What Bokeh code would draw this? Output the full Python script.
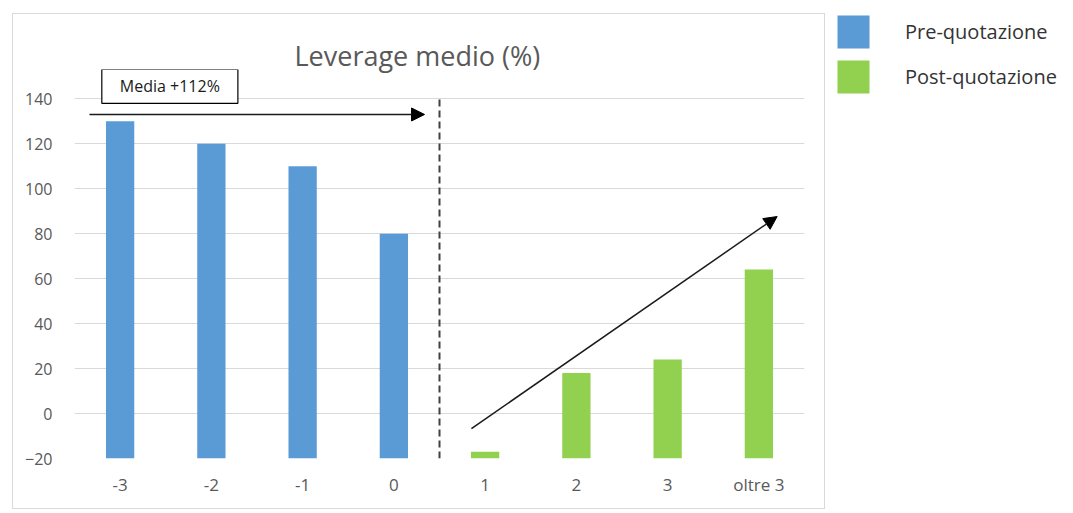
from bokeh.plotting import figure
from bokeh.models import (ColumnDataSource, FactorRange, Range1d, FixedTicker, Label,
                          Arrow, NormalHead, Legend, LegendItem)
from bokeh.layouts import row
from bokeh.embed import file_html
from bokeh.resources import INLINE

categories = ["-3", "-2", "-1", "0", "1", "2", "3", "oltre 3"]
pre_cats = ["-3", "-2", "-1", "0"]
pre_vals = [130, 120, 110, 80]
post_cats = ["1", "2", "3", "oltre 3"]
post_vals = [-17, 18, 24, 64]
y_ticks = [-20, 0, 20, 40, 60, 80, 100, 120, 140]
title_text = "Leverage medio (%)"
box_text = "Media +112%"
series_names = ["Pre-quotazione", "Post-quotazione"]

BLUE = "#5b9bd5"
GREEN = "#92d050"
GREY_TXT = "#595959"
FONT = "Open Sans"

p = figure(width=813, height=496, x_range=FactorRange(*categories),
           y_range=Range1d(-20, 153), output_backend="svg", toolbar_location=None,
           title=title_text, margin=(13, 0, 4, 12),
           min_border_left=61, min_border_right=22, min_border_bottom=52, min_border_top=55)
p.frame_align = False
p.styles = {"border": "1px solid #d9d9d9"}
p.title.align = "left"
p.title.text_font = FONT
p.title.text_font_size = "27px"
p.title.text_font_style = "normal"
p.title.text_color = GREY_TXT
p.title.offset = 220
p.title.standoff = -8
p.outline_line_color = None
p.background_fill_color = "white"
p.border_fill_color = "white"

p.xgrid.grid_line_color = None
p.ygrid.grid_line_color = "#d9d9d9"
p.ygrid.grid_line_width = 1
p.yaxis.ticker = FixedTicker(ticks=y_ticks)
for ax in (p.xaxis[0], p.yaxis[0]):
    ax.axis_line_color = None
    ax.major_tick_line_color = None
    ax.minor_tick_line_color = None
    ax.major_label_text_font = FONT
    ax.major_label_text_color = GREY_TXT
p.yaxis.major_label_text_font_size = "16px"
p.xaxis.major_label_text_font_size = "17px"
p.yaxis.major_label_standoff = 16
p.xaxis.major_label_standoff = 8

src_pre = ColumnDataSource(dict(x=pre_cats, top=pre_vals))
src_post = ColumnDataSource(dict(x=post_cats, top=post_vals))
p.vbar(x="x", top="top", bottom=-20, width=0.31, source=src_pre, fill_color=BLUE, line_color=None)
p.vbar(x="x", top="top", bottom=-20, width=0.31, source=src_post, fill_color=GREEN, line_color=None)

# dashed separator between pre and post
p.segment(x0=[4.0], y0=[-20], x1=[4.0], y1=[141], line_color="#404040", line_width=2,
          line_dash="7 4")

# arrows
p.add_layout(Arrow(end=NormalHead(size=13, fill_color="black", line_color="black"),
                   x_start=0.164, y_start=133, x_end=3.836, y_end=133,
                   line_color="#1a1a1a", line_width=1.5))
p.add_layout(Arrow(end=NormalHead(size=13, fill_color="black", line_color="black"),
                   x_start=4.35, y_start=-6.7, x_end=7.70, y_end=87.6,
                   line_color="#1a1a1a", line_width=1.5))

p.add_layout(Label(x=1.045, y=145.5, text=box_text, text_align="center", text_baseline="middle",
                   text_font=FONT, text_font_size="16px", text_color="#1a1a1a",
                   border_line_color="black", border_line_width=1.2,
                   background_fill_color="white", padding=(18, 18, 6, 6)))

# legend figure
leg = figure(width=248, height=496, x_range=Range1d(0, 1), y_range=Range1d(0, 1),
             output_backend="svg", toolbar_location=None, x_axis_type=None, y_axis_type=None,
             min_border_left=8, min_border_right=0, min_border_top=11, min_border_bottom=0,
             margin=(0, 0, 0, 0))
leg.frame_align = False
leg.outline_line_color = None
leg.xgrid.visible = False
leg.ygrid.visible = False
r1 = leg.vbar(x=[10], top=[10], width=0.5, fill_color=BLUE, line_color=None)
r2 = leg.vbar(x=[10], top=[10], width=0.5, fill_color=GREEN, line_color=None)
legend = Legend(items=[LegendItem(label=series_names[0], renderers=[r1]),
                       LegendItem(label=series_names[1], renderers=[r2])],
                location="top_left", orientation="vertical",
                glyph_width=40, glyph_height=41, label_standoff=32, spacing=4,
                padding=0, margin=0, border_line_color=None, background_fill_alpha=0,
                label_text_font=FONT, label_text_font_size="20px", label_text_color="#333333")
leg.add_layout(legend)

layout = row(p, leg)
open("out.html", "w").write(file_html(layout, INLINE))
